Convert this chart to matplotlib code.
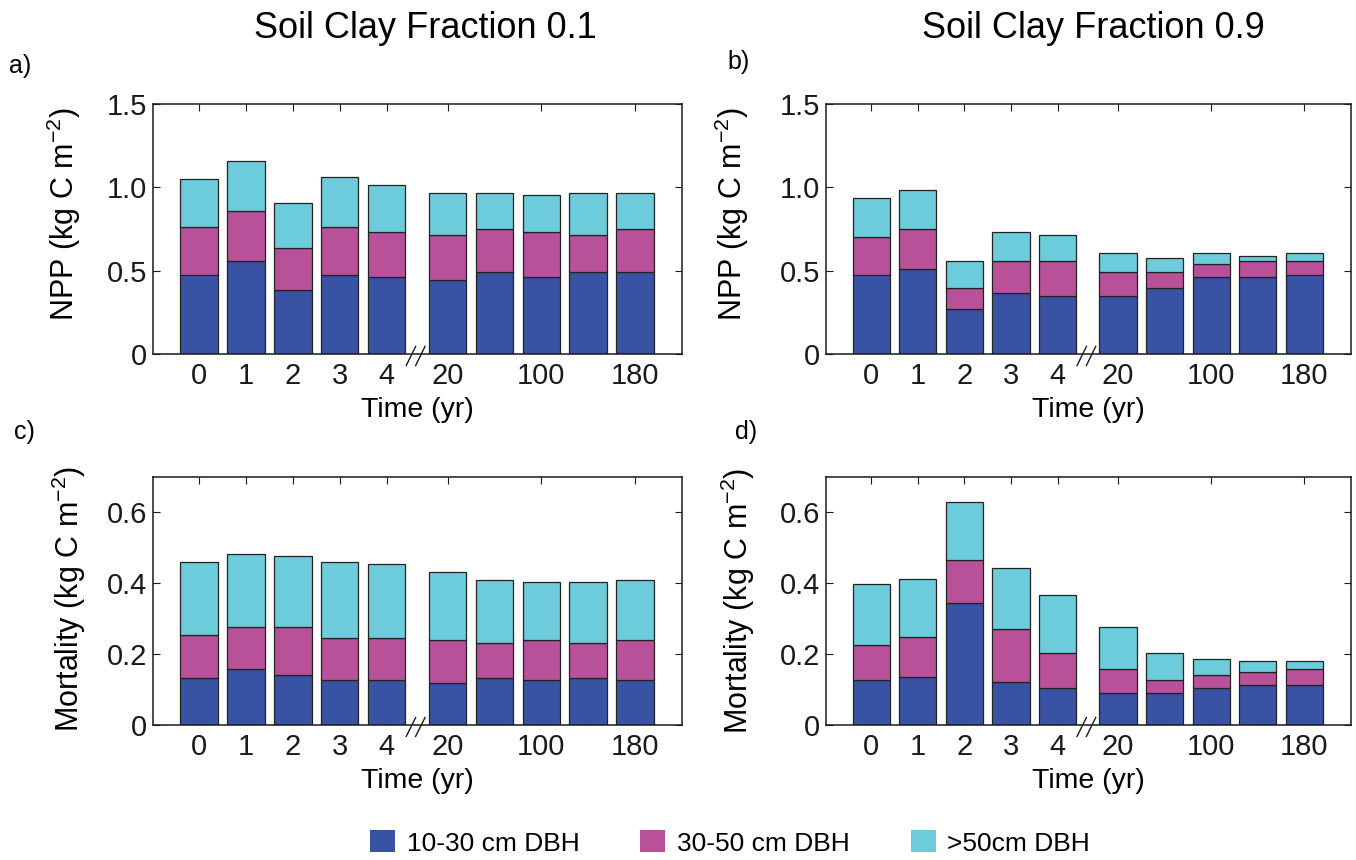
import numpy as np
import matplotlib
matplotlib.use("Agg")
import matplotlib.pyplot as plt
from matplotlib.patches import Patch

plt.rcParams['font.family'] = ['Liberation Sans', 'DejaVu Sans']
plt.rcParams['mathtext.fontset'] = 'custom'
plt.rcParams['mathtext.rm'] = 'Liberation Sans'
plt.rcParams['mathtext.it'] = 'Liberation Sans:italic'
plt.rcParams['mathtext.default'] = 'regular'

# ---------------- data ----------------
time_labels = ['0', '1', '2', '3', '4', '20', '100', '180']
labelled_bars = [0, 1, 2, 3, 4, 5, 7, 9]
size_classes = ['10-30 cm DBH', '30-50 cm DBH', '>50cm DBH']
colors = ['#3953A4', '#B8509A', '#6CCCDB']

# a) NPP, clay 0.1
npp_c01_small = [0.477, 0.555, 0.382, 0.475, 0.459, 0.443, 0.491, 0.459, 0.491, 0.491]
npp_c01_mid   = [0.286, 0.304, 0.254, 0.288, 0.271, 0.273, 0.257, 0.271, 0.225, 0.257]
npp_c01_large = [0.285, 0.300, 0.269, 0.301, 0.286, 0.252, 0.220, 0.222, 0.252, 0.220]
# b) NPP, clay 0.9
npp_c09_small = [0.477, 0.509, 0.270, 0.366, 0.350, 0.350, 0.398, 0.461, 0.461, 0.477]
npp_c09_mid   = [0.223, 0.239, 0.128, 0.191, 0.207, 0.143, 0.095, 0.080, 0.096, 0.080]
npp_c09_large = [0.236, 0.238, 0.159, 0.175, 0.159, 0.111, 0.080, 0.063, 0.031, 0.047]
# c) Mortality, clay 0.1
mort_c01_small = [0.133, 0.157, 0.142, 0.127, 0.127, 0.119, 0.133, 0.127, 0.133, 0.127]
mort_c01_mid   = [0.120, 0.119, 0.134, 0.119, 0.119, 0.120, 0.098, 0.112, 0.098, 0.112]
mort_c01_large = [0.208, 0.208, 0.200, 0.215, 0.208, 0.193, 0.179, 0.164, 0.172, 0.171]
# d) Mortality, clay 0.9
mort_c09_small = [0.127, 0.135, 0.345, 0.120, 0.105, 0.090, 0.090, 0.105, 0.112, 0.112]
mort_c09_mid   = [0.098, 0.112, 0.120, 0.150, 0.097, 0.067, 0.037, 0.037, 0.038, 0.045]
mort_c09_large = [0.172, 0.165, 0.165, 0.172, 0.165, 0.120, 0.075, 0.045, 0.030, 0.023]

titles = ['Soil Clay Fraction 0.1', 'Soil Clay Fraction 0.9']
panel_letters = ['a)', 'b)', 'c)', 'd)']
npp_label = 'NPP (kg C m$^{-2}$)'
mort_label = 'Mortality (kg C m$^{-2}$)'
xlabel = 'Time (yr)'

# ---------------- figure ----------------
fig = plt.figure(figsize=(13.56, 8.6), dpi=100)
W, H = 1356.0, 860.0

def axrect(l, t, r, b):
    return [l / W, 1 - b / H, (r - l) / W, (b - t) / H]

axes = [
    fig.add_axes(axrect(153, 104, 682, 354)),
    fig.add_axes(axrect(825.5, 104, 1351, 354)),
    fig.add_axes(axrect(153, 477, 682, 725)),
    fig.add_axes(axrect(825.5, 477, 1351, 725)),
]

panels = [
    (npp_c01_small, npp_c01_mid, npp_c01_large, 1.5, [0, 0.5, 1.0, 1.5], ['0', '0.5', '1.0', '1.5'], npp_label, 0.56),
    (npp_c09_small, npp_c09_mid, npp_c09_large, 1.5, [0, 0.5, 1.0, 1.5], ['0', '0.5', '1.0', '1.5'], npp_label, 0.56),
    (mort_c01_small, mort_c01_mid, mort_c01_large, 0.7, [0, 0.2, 0.4, 0.6], ['0', '0.2', '0.4', '0.6'], mort_label, 0.51),
    (mort_c09_small, mort_c09_mid, mort_c09_large, 0.7, [0, 0.2, 0.4, 0.6], ['0', '0.2', '0.4', '0.6'], mort_label, 0.50),
]
ylabel_x = [-0.132, -0.142, -0.123, -0.131]

n = len(npp_c01_small)
idx = np.arange(n)
xpos = idx + np.where(idx >= 5, 0.3, 0.0)
break_x = 4.62

for k, (ax, (s, m, l, ymax, yt, ytl, ylab, ly)) in enumerate(zip(axes, panels)):
    s = np.array(s); m = np.array(m); l = np.array(l)
    ax.bar(xpos, s, width=0.8, color=colors[0], edgecolor='#222222', linewidth=0.9)
    ax.bar(xpos, m, width=0.8, bottom=s, color=colors[1], edgecolor='#222222', linewidth=0.9)
    ax.bar(xpos, l, width=0.8, bottom=s + m, color=colors[2], edgecolor='#222222', linewidth=0.9)
    ax.set_xlim(-0.98, 10.3)
    ax.set_ylim(0, ymax)
    ax.set_yticks(yt)
    ax.set_yticklabels(ytl)
    ax.set_xticks(xpos[labelled_bars])
    ax.set_xticklabels(time_labels)
    ax.tick_params(axis='both', direction='in', length=5, width=0.8, labelsize=21,
                   top=True, right=True, colors='#1a1a1a')
    ax.tick_params(axis='x', bottom=False, pad=6)
    ax.tick_params(axis='y', pad=4)
    for sp in ax.spines.values():
        sp.set_linewidth(1.1)
        sp.set_color('#1a1a1a')
    ax.set_xlabel(xlabel, fontsize=20.5, labelpad=5)
    ax.set_ylabel(ylab, fontsize=22)
    ax.yaxis.set_label_coords(ylabel_x[k], ly)
    # axis break marks
    tr = ax.get_xaxis_transform()
    for dx in (-0.1, 0.1):
        ax.plot([break_x + dx - 0.1, break_x + dx + 0.1], [-0.046, 0.03],
                transform=tr, color='#1a1a1a', linewidth=1.0, clip_on=False)

fig.text(425 / W, 1 - 29 / H, titles[0], fontsize=26, ha='center', va='center')
fig.text(1093 / W, 1 - 29 / H, titles[1], fontsize=26, ha='center', va='center')

letter_pos = [(9, 66), (727, 62), (14, 432), (735, 432)]
for lt, (px, py) in zip(panel_letters, letter_pos):
    fig.text(px / W, 1 - py / H, lt, fontsize=18, ha='left', va='center')

handles = [Patch(facecolor=c, edgecolor='none') for c in colors]
fig.legend(handles, size_classes, loc='center', bbox_to_anchor=(730 / W, 1 - 843 / H),
           ncol=3, frameon=False, fontsize=19, handlelength=0.95, handleheight=0.9,
           handletextpad=0.45, columnspacing=2.3, borderaxespad=0)

fig.savefig('out.png', dpi=100)
